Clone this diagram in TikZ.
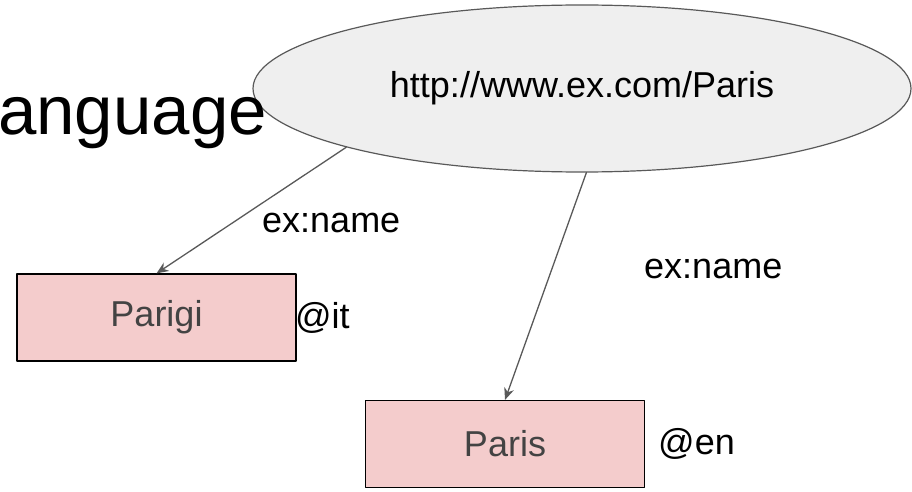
\documentclass[tikz,border=0pt]{standalone}
\usepackage{fontspec}
\setmainfont{Liberation Sans}
\usetikzlibrary{shapes.geometric,arrows.meta}
\definecolor{literal}{HTML}{F4CCCC}
\definecolor{resource}{HTML}{EFEFEF}
\definecolor{edgegray}{HTML}{595959}
\definecolor{textgray}{HTML}{434343}
\begin{document}
\begin{tikzpicture}[x=1pt, y=-1pt, font=\fontsize{36}{43}\selectfont, line join=round, line cap=round,
	>={Stealth[length=12pt,width=10pt]},
	res/.style={ellipse, draw=edgegray, fill=resource, line width=1.2pt, inner sep=0pt, minimum width=658pt, minimum height=167pt},
	lit/.style={rectangle, draw=black, fill=literal, line width=1.2pt, text=textgray, minimum width=279pt, minimum height=87pt},
	txt/.style={inner sep=0pt, anchor=base west},
	pred/.style={->, draw=edgegray, line width=1.3pt}]
	\useasboundingbox (0,0) rectangle (912,492);
	% ressource et littéraux
	\node[res] (uri) at (582,88.5) {http://www.ex.com/Paris};
	\node[lit] (parigi) at (156.5,317.5) {Parigi};
	\node[lit] (paris) at (505,444) {Paris};
	% titre à gauche
	\node[inner sep=0pt, anchor=base west, font=\fontsize{69}{76}\selectfont] (titre) at (-2,134) {anguage};
	% prédicats
	\draw[pred] (uri.194) -- (parigi.north);
	\draw[pred] (uri.273) -- (paris.north);
	\node[txt] (nomit) at (262,232) {ex:name};
	\node[txt] (nomen) at (644,278) {ex:name};
	% étiquettes de langue
	\node[txt] (langit) at (295,328) {@it};
	\node[txt] (langen) at (658,454) {@en};
\end{tikzpicture}
\end{document}
